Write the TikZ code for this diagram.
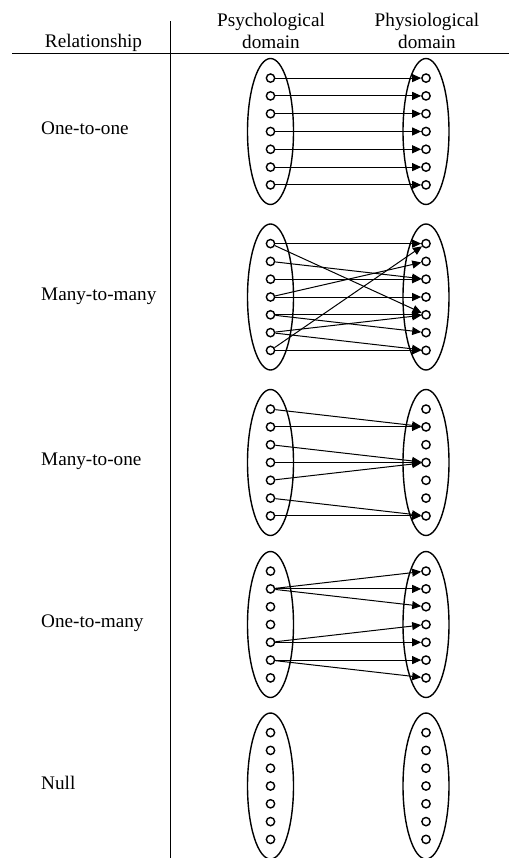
\documentclass[tikz,border=0pt]{standalone}
\usepackage{fontspec}
\setmainfont{Liberation Serif}
\usetikzlibrary{arrows.meta,shapes.geometric}
\begin{document}
\begin{tikzpicture}[x=1pt,y=-1pt,
  every node/.style={font=\fontsize{19.2}{22}\selectfont},
  lbl/.style={anchor=base west, inner sep=0},
  hdr/.style={anchor=base, inner sep=0, align=center},
  pt/.style={circle, draw, line width=1.4pt, minimum size=8.3pt, inner sep=0},
  dom/.style={ellipse, draw, line width=1.4pt, minimum width=46pt, minimum height=146pt, inner sep=0},
  link/.style={line width=1pt, -{Triangle[length=9pt,width=8pt]}},
  rulestyle/.style={line width=1pt}]
\useasboundingbox (0,0) rectangle (509,858);

% table header (base anchor sits on the last line)
\node[hdr] (hrel) at (93.5,48) {Relationship};
\node[hdr] (hpsy) at (271,48.3) {Psychological\\domain};
\node[hdr] (hphy) at (427,48.3) {Physiological\\domain};
\coordinate (hl) at (12,53.3);
\coordinate (hr) at (509,53.3);
\coordinate (vt) at (170,21.5);
\coordinate (vb) at (170,858);
\draw[rulestyle] (hl) -- (hr);
\draw[rulestyle] (vt) -- (vb);

% one row per relationship: label, two domains of seven elements each
\foreach \k/\cy/\lab in {1/131.5/One-to-one, 2/297/Many-to-many, 3/462.5/Many-to-one,
                          4/624.5/One-to-many, 5/786/Null}{
  \node[lbl] (T\k) at (41,\cy+3) {\lab};
  \node[dom] (E\k L) at (270.5,\cy) {};
  \node[dom] (E\k R) at (426,\cy) {};
  \foreach \i in {1,...,7}{
    \node[pt] (L\k-\i) at (270.5,{\cy+(\i-4)*17.8}) {};
    \node[pt] (R\k-\i) at (426,{\cy+(\i-4)*17.8}) {};
  }
}

% mappings
\foreach \i in {1,...,7} \draw[link] (L1-\i) -- (R1-\i);
\foreach \a/\b in {1/1,1/5,2/3,3/3,4/2,4/4,5/5,5/6,6/5,6/7,7/1,7/7}
  \draw[link] (L2-\a) -- (R2-\b);
\foreach \a/\b in {1/2,2/2,3/4,4/4,5/4,6/7,7/7}
  \draw[link] (L3-\a) -- (R3-\b);
\foreach \a/\b in {2/1,2/2,2/3,5/4,5/5,6/6,6/7}
  \draw[link] (L4-\a) -- (R4-\b);
\end{tikzpicture}
\end{document}
